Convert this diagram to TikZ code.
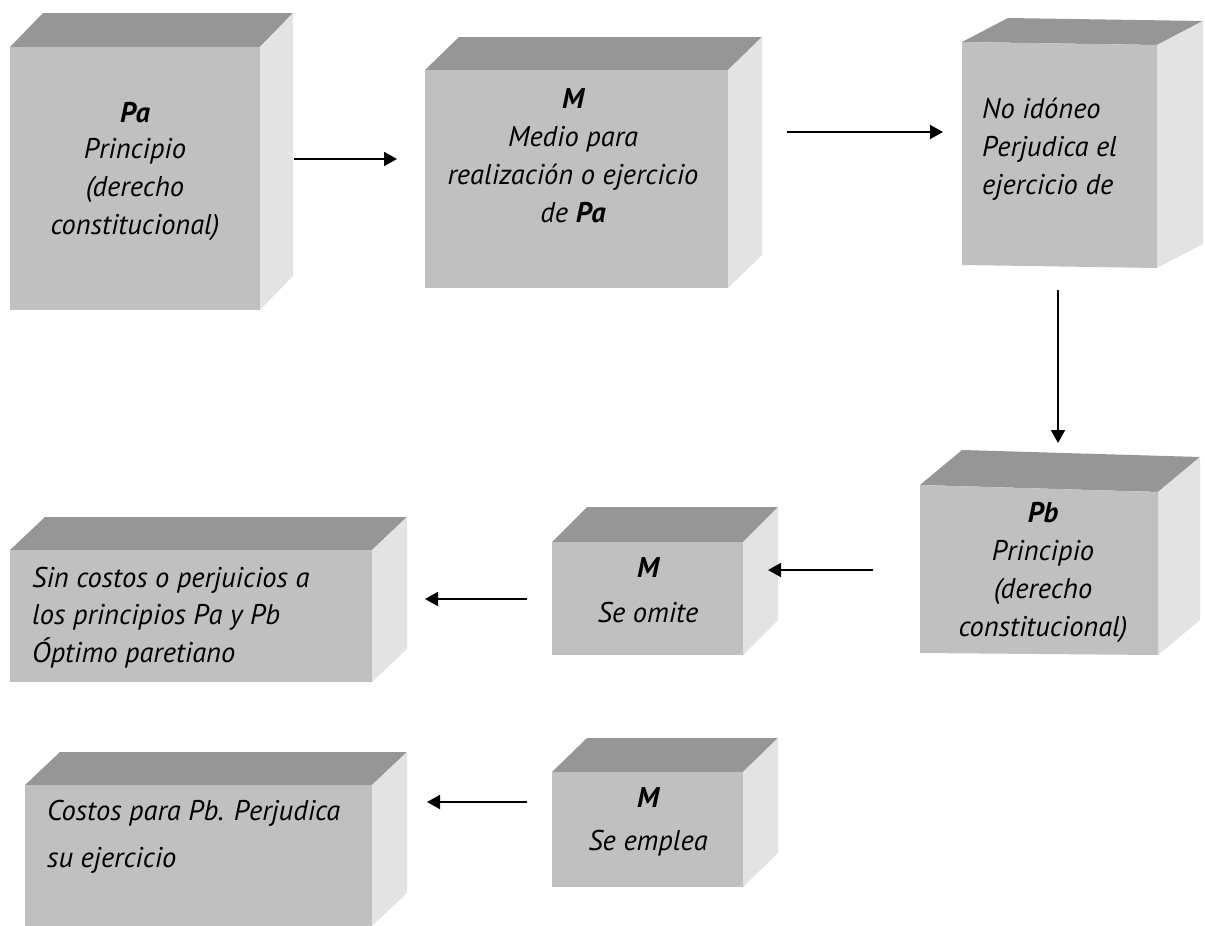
\documentclass[tikz,border=0pt]{standalone}
\usepackage{fontspec}
\setmainfont{PT Sans}
\usetikzlibrary{arrows.meta}
\definecolor{frontc}{HTML}{C0C0C0}
\definecolor{topc}{HTML}{969696}
\definecolor{sidec}{HTML}{E3E3E3}
% #1 x-left, #2 y top-left, #3 x-right, #4 y top-right, #5 y bottom-right, #6 y bottom-left, #7 dx, #8 dy
\newcommand\cubeface[8]{%
  \fill[topc] (#1,#2) -- (#1+#7,#2-#8) -- (#3+#7,#4-#8) -- (#3,#4) -- cycle;
  \fill[sidec] (#3,#4) -- (#3+#7,#4-#8) -- (#3+#7,#5-#8) -- (#3,#5) -- cycle;
  \fill[frontc] (#1,#2) -- (#3,#4) -- (#3,#5) -- (#1,#6) -- cycle;
}
\tikzset{
  lbl/.style={inner sep=0pt, anchor=north, align=center, text=black,
    font=\fontsize{28.5}{38}\selectfont\itshape},
  lblL/.style={lbl, anchor=north west, align=left},
  arr/.style={line width=1.9pt, -{Triangle[length=13pt,width=14pt]}}
}
\begin{document}
\begin{tikzpicture}[x=1pt,y=-1pt]
\useasboundingbox (0,0) rectangle (1205,926);
% boxes
\cubeface{10}{47}{260}{47}{310}{310}{33}{34}
\cubeface{425}{70}{728}{70}{288}{288}{34}{33}
\cubeface{962}{42}{1157}{45}{268}{265}{46}{24}
\cubeface{920}{485}{1158}{492}{655}{653}{42}{35}
\cubeface{10}{550}{372}{550}{682}{682}{35}{33}
\cubeface{552}{542}{743}{542}{655}{655}{35}{35}
\cubeface{25}{785}{372}{785}{926}{926}{35}{33}
\cubeface{552}{772}{743}{772}{887}{887}{35}{34}
% texts
\node[lbl] (t1) at (135,95.4) {\strut\textbf{Pa}\\[-2pt]Principio\\(derecho\\constitucional)};
\node[lbl] (t2) at (573,81.4) {\strut\textbf{M}\\Medio para\\realización o ejercicio\\de \textbf{Pa}};
\node[lblL] (t3) at (982,91.4) {\strut No idóneo\\Perjudica el\\ejercicio de};
\node[lbl] (t4) at (1043,495.4) {\strut\textbf{Pb}\\Principio\\(derecho\\constitucional)};
\node[lblL] (t5) at (32,560.4) {\strut Sin costos o perjuicios a\\[-0.5pt]los principios Pa y Pb\\[-0.5pt]Óptimo paretiano};
\node[lbl] (t6) at (648,550.4) {\strut\textbf{M}\\[7pt]Se omite};
\node[lblL] (t7) at (47,793.4) {\strut Costos para Pb. Perjudica\\[9pt]su ejercicio};
\node[lbl] (t8) at (648,780.4) {\strut\textbf{M}\\[5pt]Se emplea};
% connector ends
\coordinate (a1s) at (294,159); \coordinate (a1e) at (397,159);
\coordinate (a2s) at (787,132); \coordinate (a2e) at (943,132);
\coordinate (a3s) at (1058,290); \coordinate (a3e) at (1058,443);
\coordinate (a4s) at (873,570); \coordinate (a4e) at (768,570);
\coordinate (a5s) at (527,599); \coordinate (a5e) at (425,599);
\coordinate (a6s) at (527,802); \coordinate (a6e) at (427,802);
\draw[arr] (a1s) -- (a1e);
\draw[arr] (a2s) -- (a2e);
\draw[arr] (a3s) -- (a3e);
\draw[arr] (a4s) -- (a4e);
\draw[arr] (a5s) -- (a5e);
\draw[arr] (a6s) -- (a6e);
\end{tikzpicture}
\end{document}
